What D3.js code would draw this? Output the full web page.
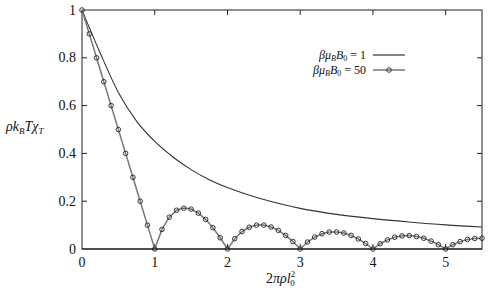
<!DOCTYPE html>
<html>
<head>
<meta charset="utf-8">
<script src="https://cdn.jsdelivr.net/npm/d3@7"></script>
<style>
  html, body { margin: 0; padding: 0; background: #fff; }
  svg { display: block; }
  svg text { font-family: "Liberation Serif", "DejaVu Serif", serif; fill: #111; }
</style>
</head>
<body>
<svg id="chart" width="488" height="294"></svg>
<script>
// ---------------- DATA ----------------

const xTicks = [0, 1, 2, 3, 4, 5];
const yTicks = [0, 0.2, 0.4, 0.6, 0.8, 1];

// beta mu_B B0 = 1 (smooth curve)
const weakX = [0, 0.25, 0.5, 0.75, 1, 1.25, 1.5, 1.75, 2, 2.25, 2.5, 2.75, 3, 3.5, 4, 4.5, 5, 5.5];
const weakY = [1, 0.82, 0.655, 0.535, 0.45, 0.385, 0.332, 0.29, 0.257, 0.23, 0.207, 0.187, 0.17, 0.145, 0.127, 0.113, 0.101, 0.092];

// beta mu_B B0 = 50 (points every 0.1)
const strongX = d3.range(56).map(i => i / 10);
const strongY = [
  1, 0.9, 0.8, 0.7, 0.6, 0.5, 0.4, 0.3, 0.2, 0.1,
  0, 0.082, 0.133, 0.162, 0.171, 0.167, 0.15, 0.124, 0.089, 0.047,
  0, 0.043, 0.073, 0.091, 0.1, 0.1, 0.092, 0.078, 0.057, 0.031,
  0, 0.029, 0.05, 0.064, 0.071, 0.071, 0.067, 0.057, 0.042, 0.023,
  0, 0.022, 0.038, 0.049, 0.055, 0.056, 0.052, 0.045, 0.033, 0.018,
  0, 0.018, 0.031, 0.04, 0.044, 0.045
];

// ---------------- CHART ----------------

const margin = { top: 10, right: 6, bottom: 45, left: 82 };
const width = 488, height = 294;

const svg = d3.select("#chart");

const x = d3.scaleLinear().domain([0, 5.5]).range([margin.left, width - margin.right]);
const y = d3.scaleLinear().domain([0, 1]).range([height - margin.bottom, margin.top]);

const tick = 5;
const axes = svg.append("g").attr("stroke", "#222").attr("stroke-width", 1);

// frame
axes.append("rect")
  .attr("x", x(0)).attr("y", y(1))
  .attr("width", x(5.5) - x(0)).attr("height", y(0) - y(1))
  .attr("fill", "none");

// inward ticks, mirrored
xTicks.slice(1).forEach(t => {
  axes.append("line").attr("x1", x(t)).attr("x2", x(t)).attr("y1", y(0)).attr("y2", y(0) - tick);
  axes.append("line").attr("x1", x(t)).attr("x2", x(t)).attr("y1", y(1)).attr("y2", y(1) + tick);
});
yTicks.slice(1, -1).forEach(t => {
  axes.append("line").attr("x1", x(0)).attr("x2", x(0) + tick).attr("y1", y(t)).attr("y2", y(t));
  axes.append("line").attr("x1", x(5.5)).attr("x2", x(5.5) - tick).attr("y1", y(t)).attr("y2", y(t));
});

// tick labels
svg.append("g").selectAll("text")
  .data(xTicks).join("text")
  .attr("x", d => x(d)).attr("y", y(0) + 18)
  .attr("text-anchor", "middle").attr("font-size", 14)
  .text(d => d);

svg.append("g").selectAll("text")
  .data(yTicks).join("text")
  .attr("x", x(0) - 6).attr("y", d => y(d) + 4.5)
  .attr("text-anchor", "end").attr("font-size", 14)
  .text(d => d);

// axis titles
const yl = svg.append("text")
  .attr("x", 6).attr("y", 131).attr("font-size", 14).attr("font-style", "italic");
yl.append("tspan").text("ρk");
yl.append("tspan").attr("font-size", 9).attr("dy", 3).text("B");
yl.append("tspan").attr("dy", -3).text("Tχ");
yl.append("tspan").attr("font-size", 9).attr("dy", 3).text("T");

const xl = svg.append("text")
  .attr("x", 266).attr("y", 283).attr("font-size", 14);
xl.append("tspan").text("2");
xl.append("tspan").attr("font-style", "italic").text("πρl");
xl.append("tspan").attr("font-size", 9).attr("dy", -6).text("2");
xl.append("tspan").attr("font-size", 9).attr("dy", 9).attr("dx", -5).text("0");

// ---------------- SERIES ----------------

const weak = weakX.map((v, i) => [v, weakY[i]]);
const strong = strongX.map((v, i) => [v, strongY[i]]);

svg.append("path")
  .attr("d", d3.line().curve(d3.curveMonotoneX).x(d => x(d[0])).y(d => y(d[1]))(weak))
  .attr("fill", "none").attr("stroke", "#333").attr("stroke-width", 1.1);

svg.append("path")
  .attr("d", d3.line().x(d => x(d[0])).y(d => y(d[1]))(strong))
  .attr("fill", "none").attr("stroke", "#777").attr("stroke-width", 1.5);

svg.append("g").selectAll("circle")
  .data(strong).join("circle")
  .attr("cx", d => x(d[0])).attr("cy", d => y(d[1]))
  .attr("r", 2.3)
  .attr("fill", "none").attr("stroke", "#222").attr("stroke-width", 0.9);

// redraw x axis line on top
svg.append("line")
  .attr("x1", x(0)).attr("x2", x(5.5)).attr("y1", y(0)).attr("y2", y(0))
  .attr("stroke", "#111").attr("stroke-width", 1.2);

// ---------------- LEGEND ----------------

const legend = [
  { label: "1", yy: 55, marker: false, color: "#222" },
  { label: "50", yy: 70, marker: true, color: "#777" }
];

legend.forEach(l => {
  const t = svg.append("text")
    .attr("x", 366).attr("y", l.yy + 4)
    .attr("text-anchor", "end").attr("font-size", 12);
  t.append("tspan").attr("font-style", "italic").text("βμ");
  t.append("tspan").attr("font-style", "italic").attr("font-size", 8).attr("dy", 1.5).text("B");
  t.append("tspan").attr("font-style", "italic").attr("dy", -1.5).text("B");
  t.append("tspan").attr("font-size", 8).attr("dy", 1.5).text("0");
  t.append("tspan").attr("dy", -1.5).text(" = " + l.label);

  svg.append("line").attr("x1", 373).attr("x2", 405).attr("y1", l.yy).attr("y2", l.yy)
    .attr("stroke", l.color).attr("stroke-width", l.marker ? 1.5 : 1.1);
  if (l.marker) {
    svg.append("circle").attr("cx", 389).attr("cy", l.yy).attr("r", 2.3)
      .attr("fill", "none").attr("stroke", "#222").attr("stroke-width", 0.9);
  }
});
</script>
</body>
</html>
